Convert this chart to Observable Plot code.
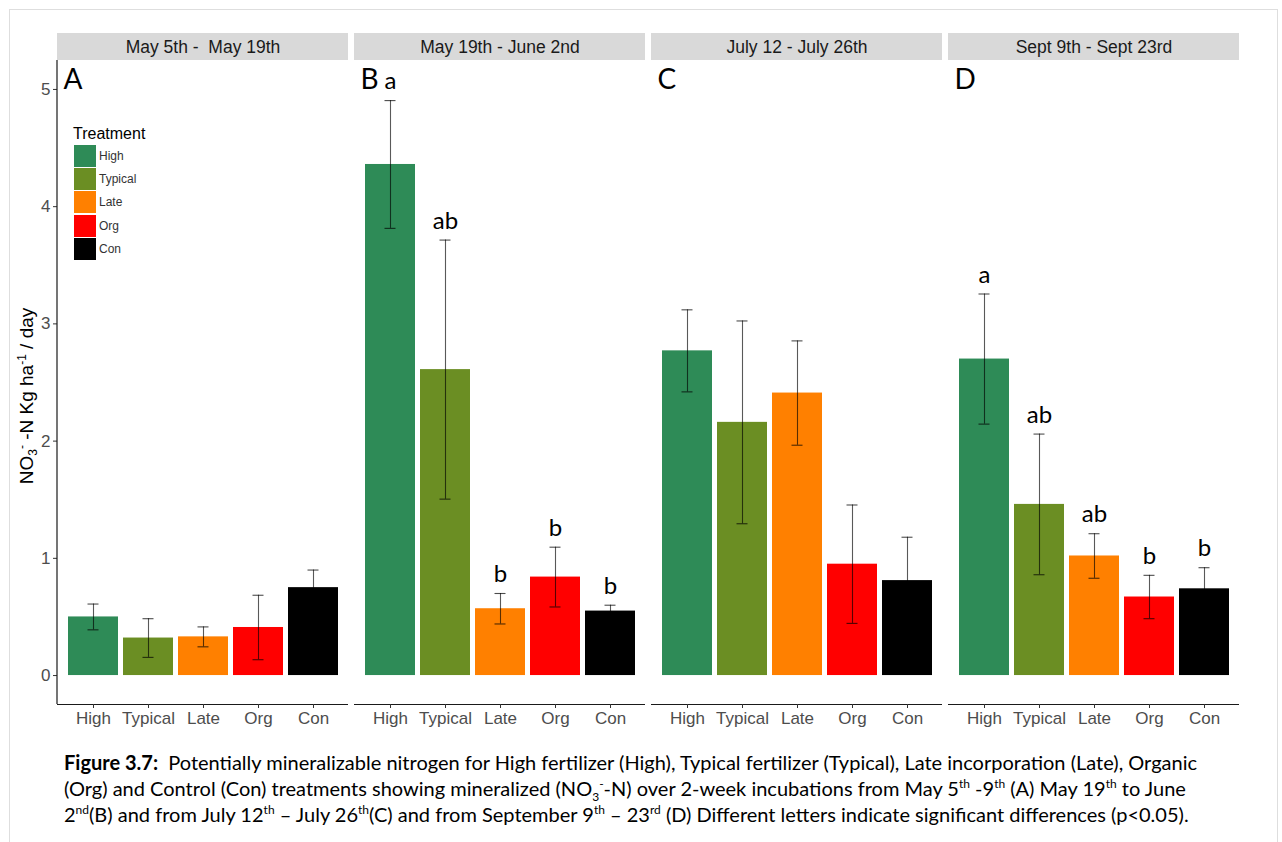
<!DOCTYPE html>
<html>
<head>
<meta charset="utf-8">
<script src="https://cdn.jsdelivr.net/npm/d3@7"></script>
<script src="https://cdn.jsdelivr.net/npm/@observablehq/plot@0.6"></script>
<style>
  html, body { margin: 0; padding: 0; background: #fff; }
  #wrap { position: relative; width: 1282px; height: 842px; overflow: hidden; background: #fff; }
  #border { position: absolute; left: 9px; top: 9px; width: 1267px; height: 900px; border: 1px solid #dedede; z-index: 5; pointer-events: none; }
  #chart { position: absolute; left: 0; top: 0; }
  #legend { position: absolute; left: 73px; top: 123px; font-family: "Liberation Sans", Arial, sans-serif; }
  #legend .title { font-size: 16px; color: #000; height: 21px; line-height: 21px; }
  #legend .row { display: flex; align-items: center; height: 23.4px; }
  #legend .sw { width: 22px; height: 22px; margin-left: 1px; }
  #legend .lab { font-size: 12px; color: #333; margin-left: 3px; }
  #caption { position: absolute; left: 64px; top: 749px; font-family: Lato, "Open Sans", sans-serif; font-size: 20px; line-height: 26px; color: #000; white-space: nowrap; }
  #caption sup, #caption sub { font-size: 0.6em; line-height: 0; }
</style>
</head>
<body>
<div id="wrap">
  <div id="border"></div>
  <div id="chart"></div>
  <div id="legend"></div>
  <div id="caption"><b>Figure 3.7:</b>&nbsp; Potentially mineralizable nitrogen for High fertilizer (High), Typical fertilizer (Typical), Late incorporation (Late), Organic<br>(Org) and Control (Con) treatments showing mineralized (NO<sub>3</sub><sup>-</sup>-N) over 2-week incubations from May 5<sup>th</sup> -9<sup>th</sup> (A) May 19<sup>th</sup> to June<br>2<sup>nd</sup>(B) and from July 12<sup>th</sup> – July 26<sup>th</sup>(C) and from September 9<sup>th</sup> – 23<sup>rd</sup> (D) Different letters indicate significant differences (p&lt;0.05).</div>
</div>
<script>
// ---- data ----
const periods = ["May 5th -  May 19th", "May 19th - June 2nd", "July 12 - July 26th", "Sept 9th - Sept 23rd"];
const panelLetters = ["A", "B", "C", "D"];
const treatments = ["High", "Typical", "Late", "Org", "Con"];
const colors = ["#2e8b57", "#6b8e23", "#ff8000", "#ff0000", "#000000"];
const yTicks = [0, 1, 2, 3, 4, 5];

const meanA = [0.50, 0.32, 0.33, 0.41, 0.75];
const meanB = [4.36, 2.61, 0.57, 0.84, 0.55];
const meanC = [2.77, 2.16, 2.41, 0.95, 0.81];
const meanD = [2.70, 1.46, 1.02, 0.67, 0.74];

const seA = [0.11, 0.165, 0.085, 0.275, 0.15];
const seB = [0.545, 1.105, 0.13, 0.255, 0.05];
const seC = [0.35, 0.865, 0.445, 0.505, 0.37];
const seD = [0.555, 0.60, 0.19, 0.185, 0.18];

const lettersA = ["", "", "", "", ""];
const lettersB = ["a", "ab", "b", "b", "b"];
const lettersC = ["", "", "", "", ""];
const lettersD = ["a", "ab", "ab", "b", "b"];

// ---- table ----
const means = [meanA, meanB, meanC, meanD];
const ses = [seA, seB, seC, seD];
const letters = [lettersA, lettersB, lettersC, lettersD];
const rows = [];
periods.forEach((p, i) => treatments.forEach((t, j) => rows.push({
  period: p, trt: t, mean: means[i][j], lo: means[i][j] - ses[i][j], hi: means[i][j] + ses[i][j], letter: letters[i][j]
})));

const W = 1282, H = 740, mT = 60, mB = 36, mL = 57, mR = 42;
const frameH = H - mT - mB;
const yDomain = [-0.247, 5.247];

const chart = Plot.plot({
  width: W, height: H,
  marginTop: mT, marginBottom: mB, marginLeft: mL, marginRight: mR,
  style: { fontFamily: "'Liberation Sans', Arial, sans-serif", background: "white" },
  fx: { domain: periods, paddingInner: 0.0202, paddingOuter: 0, axis: null, label: null },
  x: { domain: treatments, paddingInner: 0.1, paddingOuter: 0.15, label: null },
  y: { domain: yDomain, label: null },
  color: { domain: treatments, range: colors },
  marks: [
    // facet strips
    Plot.rect([0], { fill: "#d9d9d9", insetTop: -27, insetBottom: frameH }),
    Plot.text(periods, { fx: d => d, text: d => d, frameAnchor: "top", lineAnchor: "middle", dy: -13, fontSize: 17.5, fill: "#1a1a1a" }),
    // bars
    Plot.barY(rows, { fx: "period", x: "trt", y: "mean", fill: "trt" }),
    // error bars
    Plot.ruleX(rows, { fx: "period", x: "trt", y1: "lo", y2: "hi", stroke: "#000", strokeOpacity: 0.65, strokeWidth: 1.1 }),
    Plot.tickY(rows, { fx: "period", x: "trt", y: "hi", stroke: "#000", strokeOpacity: 0.7, strokeWidth: 1.1, insetLeft: 19.5, insetRight: 19.5 }),
    Plot.tickY(rows, { fx: "period", x: "trt", y: "lo", stroke: "#000", strokeOpacity: 0.7, strokeWidth: 1.1, insetLeft: 19.5, insetRight: 19.5 }),
    // significance letters
    Plot.text(rows.filter(d => d.letter), { fx: "period", x: "trt", y: "hi", text: "letter", dy: -19, fontSize: 24, fontFamily: "Lato, sans-serif", fill: "#000" }),
    // panel letters
    Plot.text(periods, { fx: d => d, text: (d, i) => panelLetters[i], frameAnchor: "top-left", lineAnchor: "middle", textAnchor: "start", dx: 6, dy: 20, fontSize: 28, fontFamily: "Lato, sans-serif", fill: "#000" }),
    // bottom axis line in every panel
    Plot.ruleY([yDomain[0]], { stroke: "#1a1a1a", strokeWidth: 1.2 }),
    // axes
    Plot.axisX({ tickSize: 4, tickPadding: 3, fontSize: 17, fill: "#4d4d4d", stroke: "#333", label: null }),
    Plot.axisY({ ticks: yTicks, tickFormat: d => String(d), tickSize: 4, tickPadding: 3, fontSize: 17, fill: "#4d4d4d", stroke: "#333", label: null })
  ]
});
document.getElementById("chart").appendChild(chart);

const svg = d3.select(chart);
// left axis line (panel A only)
const ys = chart.scale("y");
svg.append("line")
  .attr("x1", mL).attr("x2", mL)
  .attr("y1", ys.range[0]).attr("y2", ys.range[1])
  .attr("stroke", "#1a1a1a").attr("stroke-width", 1.2);

// y-axis title with sub/superscripts
const yt = svg.append("text")
  .attr("transform", `translate(33,${mT + frameH / 2 + 14}) rotate(-90)`)
  .attr("text-anchor", "middle")
  .attr("font-family", "'Liberation Sans', Arial, sans-serif")
  .attr("font-size", 19)
  .attr("fill", "#000");
yt.append("tspan").text("NO");
yt.append("tspan").attr("font-size", 12).attr("dy", 4).text("3");
yt.append("tspan").attr("font-size", 12).attr("dy", -11).text("-");
yt.append("tspan").attr("dy", 7).text(" -N Kg ha");
yt.append("tspan").attr("font-size", 12).attr("dy", -7).text("-1");
yt.append("tspan").attr("dy", 7).text(" / day");

// legend
const lg = d3.select("#legend");
lg.append("div").attr("class", "title").text("Treatment");
treatments.forEach((t, i) => {
  const r = lg.append("div").attr("class", "row");
  r.append("div").attr("class", "sw").style("background", colors[i]);
  r.append("div").attr("class", "lab").text(t);
});
</script>
</body>
</html>
